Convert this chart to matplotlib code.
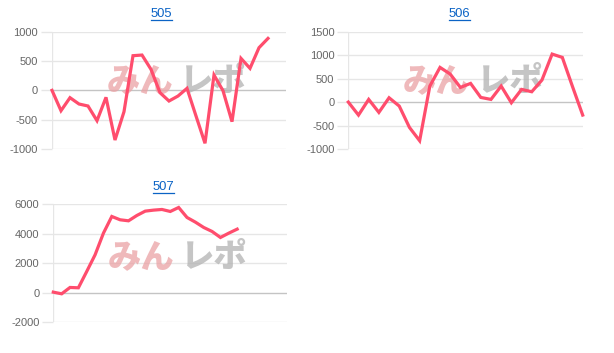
import matplotlib
matplotlib.use("Agg")
import matplotlib.pyplot as plt
from matplotlib.lines import Line2D

plt.rcParams['font.family'] = ['Liberation Sans', 'DejaVu Sans']

# ---- data ----
titles = ["505", "506", "507"]
values_505 = [0, -347, -125, -233, -267, -517, -119, -847, -364, 591, 602, 358, -40,
              -182, -97, 34, -437, -903, 261, -6, -534, 545, 375, 727, 886]
values_506 = [0, -277, 57, -220, 92, -85, -540, -824, 341, 739, 597, 312, 398, 99, 57,
              341, -14, 270, 220, 469, 1023, 952, 330, -277]
values_507 = [45, -68, 362, 339, 1446, 2576, 4045, 5175, 4949, 4881, 5243, 5537, 5605,
              5650, 5514, 5785, 5107, 4791, 4429, 4158, 3751, 4045, 4316]
slots = [27, 24, 29]
yticks_505 = [-1000, -500, 0, 500, 1000]
yticks_506 = [-1000, -500, 0, 500, 1000, 1500]
yticks_507 = [-2000, 0, 2000, 4000, 6000]

W, H = 614, 353
fig = plt.figure(figsize=(W / 100, H / 100), dpi=100)

LINE = '#ff4d6d'
GRID = '#e6e6e6'
ZERO = '#c4c4c4'
CJK = ['Noto Sans CJK JP', 'DejaVu Sans']


def px_axes(left, top, right, bottom):
    return fig.add_axes([left / W, 1 - bottom / H, (right - left) / W, (bottom - top) / H])


panels = [
    (values_505, yticks_505, slots[0], (52, 31.7, 286, 149), (161.5, 14.0, 20.0), 0.58),
    (values_506, yticks_506, slots[1], (348.3, 31.7, 582.7, 149), (459.0, 14.0, 20.0), 0.58),
    (values_507, yticks_507, slots[2], (53.3, 204.3, 287.3, 322.3), (163.0, 187.0, 193.0), 0.555),
]

for (vals, yt, ns, box, tpos, wy), title in zip(panels, titles):
    ax = px_axes(*box)
    ax.set_xlim(0, ns - 1)
    ax.set_ylim(yt[0], yt[-1])
    for v in yt:
        ax.axhline(v, color=ZERO if v == 0 else GRID, lw=1.0, zorder=0)
    ax.axvline(0, color=GRID, lw=1.0, zorder=0)
    ax.set_yticks(yt)
    ax.set_yticklabels([str(v) for v in yt])
    ax.tick_params(axis='y', length=8, width=1.0, color=GRID, pad=2,
                   labelsize=8, labelcolor='#666666')
    ax.tick_params(axis='x', length=0, labelbottom=False)
    for s in ax.spines.values():
        s.set_visible(False)
    ax.patch.set_alpha(0)
    # watermark
    ax.text(0.375, wy, "みん", fontsize=24, fontweight='black', family=CJK,
            color='#eaa2a5', alpha=0.75, ha='center', va='center', zorder=1,
            transform=ax.transAxes)
    ax.text(0.69, wy, "レポ", fontsize=24, fontweight='black', family=CJK,
            color='#b2b2b2', alpha=0.75, ha='center', va='center', zorder=1,
            transform=ax.transAxes)
    ax.plot(range(len(vals)), vals, color=LINE, lw=2.3, zorder=3,
            solid_joinstyle='miter', clip_on=False)
    # title with underline
    tx, ty, uy = tpos
    fig.text(tx / W, 1 - ty / H, title, color='#0b63c5', fontsize=9.4,
             ha='center', va='center')
    fig.add_artist(Line2D([(tx - 10.5) / W, (tx + 10.5) / W], [1 - uy / H, 1 - uy / H],
                          color='#0b63c5', lw=0.9))

fig.savefig('out.png', dpi=100)
